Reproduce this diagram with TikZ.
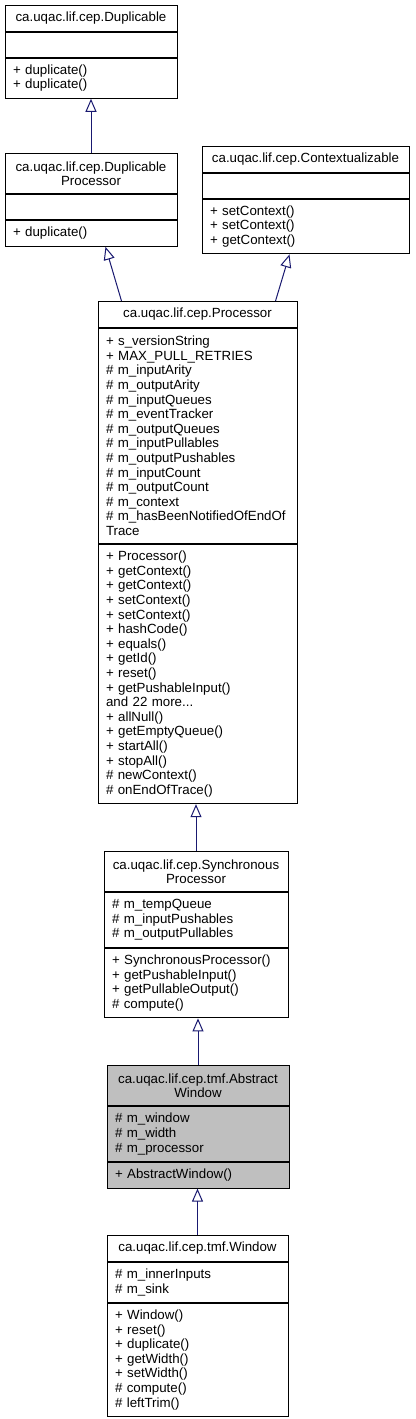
\documentclass[tikz,border=0pt]{standalone}
\usepackage{fontspec}
\setmainfont{Liberation Sans}
\usetikzlibrary{arrows.meta,positioning}
\definecolor{Navy}{HTML}{191970}
\definecolor{BoxGray}{HTML}{BFBFBF}
\tikzset{
  classpart/.style={
    rectangle, draw=black, line width=1pt, fill=white, inner xsep=8pt, inner ysep=2pt,
    font=\fontsize{13.3}{14.6}\selectfont, align=left, anchor=north
  },
  classtitle/.style={classpart, align=center},
  inheritarrow/.style={-{Triangle[open, length=13pt, width=11pt]}, Navy, line width=1pt},
}

\begin{document}
\begin{tikzpicture}
    \useasboundingbox[fill=white] (0,0) rectangle (415pt,-1419pt);
    % top row
    \node[classtitle, text width=156pt, minimum height=25.6pt] (dup) at (91pt,-5pt) {ca.uqac.lif.cep.Duplicable};
    \node[classpart, text width=156pt, minimum height=25pt, below=0pt of dup] (dup-attr) {};
    \node[classpart, text width=156pt, minimum height=40.2pt, below=0pt of dup-attr] (dup-ops) {+ duplicate()\\+ duplicate()};
    % second row
    \node[classtitle, text width=156pt, minimum height=40.2pt] (dproc) at (91pt,-153pt) {ca.uqac.lif.cep.Duplicable\\Processor};
    \node[classpart, text width=156pt, minimum height=25pt, below=0pt of dproc] (dproc-attr) {};
    \node[classpart, text width=156pt, minimum height=25.6pt, below=0pt of dproc-attr] (dproc-ops) {+ duplicate()};
    \node[classtitle, text width=191pt, minimum height=25.6pt] (ctx) at (305.5pt,-146pt) {ca.uqac.lif.cep.Contextualizable};
    \node[classpart, text width=191pt, minimum height=25pt, below=0pt of ctx] (ctx-attr) {};
    \node[classpart, text width=191pt, minimum height=54.8pt, below=0pt of ctx-attr] (ctx-ops) {+ setContext()\\+ setContext()\\+ getContext()};
    % processor
    \node[classtitle, text width=183pt, minimum height=25.6pt] (proc) at (197.5pt,-301pt) {ca.uqac.lif.cep.Processor};
    \node[classpart, text width=183pt, minimum height=215.4pt, below=0pt of proc] (proc-attr) {+ s\_versionString\\+ MAX\_PULL\_RETRIES\\\# m\_inputArity\\\# m\_outputArity\\\# m\_inputQueues\\\# m\_eventTracker\\\# m\_outputQueues\\\# m\_inputPullables\\\# m\_outputPushables\\\# m\_inputCount\\\# m\_outputCount\\\# m\_context\\\# m\_hasBeenNotifiedOfEndOf\\Trace};
    \node[classpart, text width=183pt, minimum height=259.2pt, below=0pt of proc-attr] (proc-ops) {+ Processor()\\+ getContext()\\+ getContext()\\+ setContext()\\+ setContext()\\+ hashCode()\\+ equals()\\+ getId()\\+ reset()\\+ getPushableInput()\\and 22 more...\\+ allNull()\\+ getEmptyQueue()\\+ startAll()\\+ stopAll()\\\# newContext()\\\# onEndOfTrace()};
    % synchronous processor
    \node[classtitle, text width=168pt, minimum height=40.2pt] (sync) at (196pt,-851pt) {ca.uqac.lif.cep.Synchronous\\Processor};
    \node[classpart, text width=168pt, minimum height=54.8pt, below=0pt of sync] (sync-attr) {\# m\_tempQueue\\\# m\_inputPushables\\\# m\_outputPullables};
    \node[classpart, text width=168pt, minimum height=69.4pt, below=0pt of sync-attr] (sync-ops) {+ SynchronousProcessor()\\+ getPushableInput()\\+ getPullableOutput()\\\# compute()};
    % abstract window (highlighted)
    \node[classtitle, fill=BoxGray, text width=166pt, minimum height=40.2pt] (awin) at (198pt,-1065pt) {ca.uqac.lif.cep.tmf.Abstract\\Window};
    \node[classpart, fill=BoxGray, text width=166pt, minimum height=54.8pt, below=0pt of awin] (awin-attr) {\# m\_window\\\# m\_width\\\# m\_processor};
    \node[classpart, fill=BoxGray, text width=166pt, minimum height=25.6pt, below=0pt of awin-attr] (awin-ops) {+ AbstractWindow()};
    % window
    \node[classtitle, text width=165pt, minimum height=25.6pt] (win) at (197.5pt,-1235pt) {ca.uqac.lif.cep.tmf.Window};
    \node[classpart, text width=165pt, minimum height=40.2pt, below=0pt of win] (win-attr) {\# m\_innerInputs\\\# m\_sink};
    \node[classpart, text width=165pt, minimum height=113.2pt, below=0pt of win-attr] (win-ops) {+ Window()\\+ reset()\\+ duplicate()\\+ getWidth()\\+ setWidth()\\\# compute()\\\# leftTrim()};
    % inheritance
    \draw[inheritarrow] (dproc.north) -- (dup-ops.south);
    \draw[inheritarrow] ([xshift=24pt]proc.north west) -- ([xshift=101pt]dproc-ops.south west);
    \draw[inheritarrow] ([xshift=-22pt]proc.north east) -- ([xshift=88pt]ctx-ops.south west);
    \draw[inheritarrow] (sync.north) -- (sync.north |- proc-ops.south);
    \draw[inheritarrow] (awin.north) -- (awin.north |- sync-ops.south);
    \draw[inheritarrow] (win.north) -- (win.north |- awin-ops.south);
\end{tikzpicture}
\end{document}
